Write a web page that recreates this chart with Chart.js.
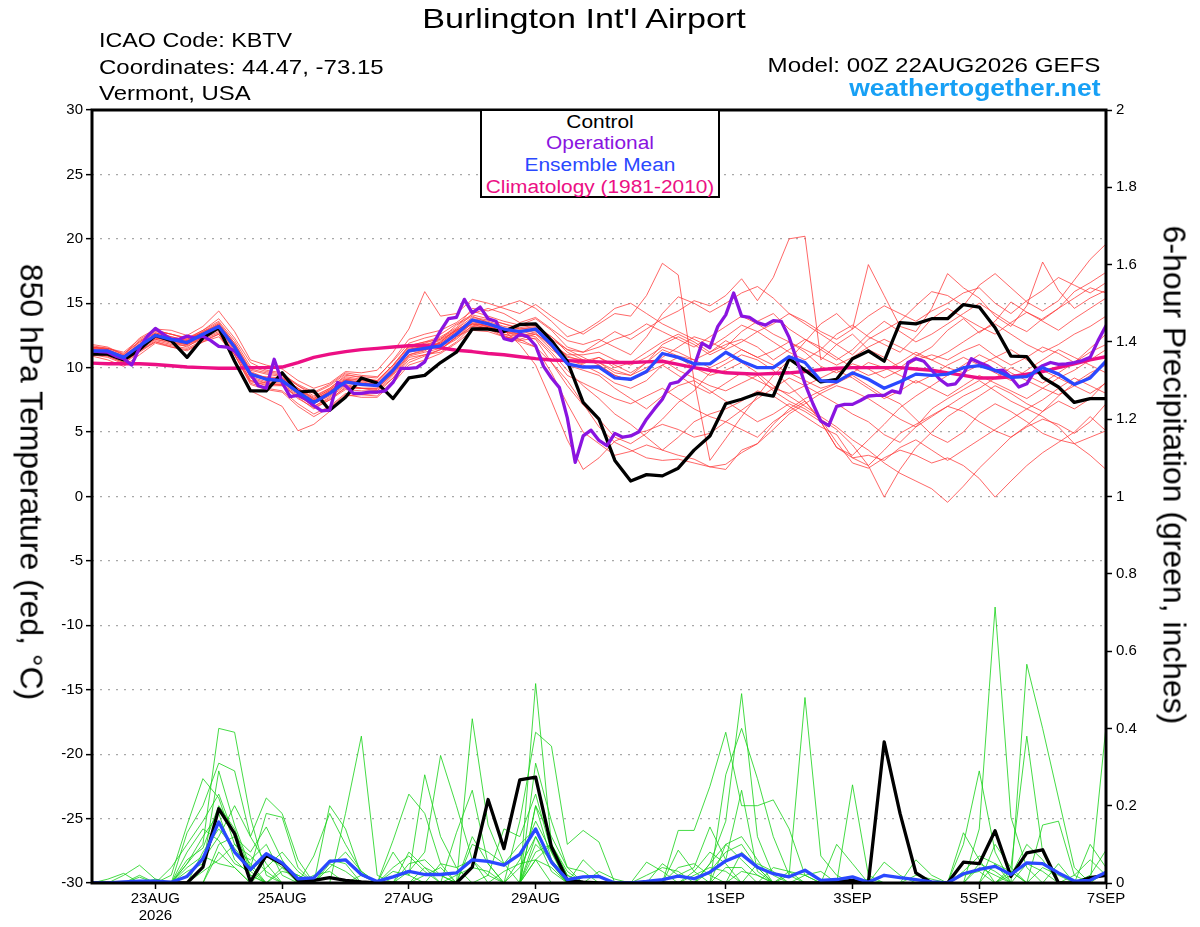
<!DOCTYPE html>
<html>
<head>
<meta charset="utf-8">
<title>Burlington Int'l Airport - GEFS</title>
<script src="https://cdn.jsdelivr.net/npm/chart.js@4.4.1/dist/chart.umd.min.js"></script>
<style>
  body { margin: 0; background: #fff; }
  #wrap { position: relative; width: 1200px; height: 927px; overflow: hidden;
          font-family: "Liberation Sans", Arial, sans-serif; color: #000; }
  #grafico { position: absolute; left: 0; top: 0; }
  .txt { position: absolute; white-space: nowrap; line-height: 1; }
  .esq { transform-origin: left center; }
  .dir { transform-origin: right center; }
  #legenda { position: absolute; left: 480px; top: 109px; width: 240px; height: 89px;
             box-sizing: border-box; border: 2px solid #000; background: #fff; }
  .leg { position: absolute; left: 600px; font-size: 18px; line-height: 1; white-space: nowrap;
         transform: translateX(-50%) scaleX(1.16); }
  .rot { position: absolute; font-size: 31px; line-height: 1; white-space: nowrap;
         transform: translate(-50%, -50%) rotate(90deg) scaleX(1.03); }
</style>
</head>
<body>
<div id="wrap">
  <canvas id="grafico" width="1200" height="927"></canvas>

  <div class="txt" style="left:584px; top:4.6px; font-size:28px; transform: translateX(-50%) scaleX(1.22);">Burlington Int'l Airport</div>
  <div class="txt esq" style="left:99px; top:28.9px; font-size:21px; transform: scaleX(1.11);">ICAO Code: KBTV</div>
  <div class="txt esq" style="left:99px; top:56.2px; font-size:21px; transform: scaleX(1.145);">Coordinates: 44.47, -73.15</div>
  <div class="txt esq" style="left:99px; top:82.2px; font-size:21px; transform: scaleX(1.14);">Vermont, USA</div>
  <div class="txt dir" style="right:100px; top:53.9px; font-size:21px; transform: scaleX(1.15);">Model: 00Z 22AUG2026 GEFS</div>
  <div class="txt dir" style="right:99px; top:77.2px; font-size:23px; font-weight:bold; color:#17a0f5; transform: scaleX(1.15);">weathertogether.net</div>

  <div id="legenda"></div>
  <div class="leg" style="top:112.8px; color:#000;">Control</div>
  <div class="leg" style="top:134.3px; color:#8a14e0;">Operational</div>
  <div class="leg" style="top:156.3px; color:#2a48ff;">Ensemble Mean</div>
  <div class="leg" style="top:177.8px; color:#ec0f84;">Climatology (1981-2010)</div>

  <div class="rot" style="left:31px; top:482px;">850 hPa Temperature (red, °C)</div>
  <div class="rot" style="left:1174px; top:475px;">6-hour Precipitation (green, inches)</div>
</div>

<script>
// Eixo x: horas desde 00Z 22AUG2026 (passo de 6 h, operacional de 3 h)
var tickHours = [24, 72, 120, 168, 240, 288, 336, 384];
var tickLabels = ['23AUG', '25AUG', '27AUG', '29AUG', '1SEP', '3SEP', '5SEP', '7SEP'];
var yearLabel = '2026';

// 850 hPa temperature, control (6-hourly)
var controlTemp = [
  11.05,11.05,10.6,11.4,12.5,12.1,10.8,12.3,13.1,10.5,8.2,
  8.2,9.6,8.1,8.2,6.7,7.7,9.2,8.8,7.6,9.2,9.4,
  10.4,11.2,13.0,13.0,12.8,13.35,13.4,12.1,10.5,7.3,6.0,
  2.8,1.2,1.7,1.6,2.2,3.6,4.7,7.2,7.55,8.0,7.8,
  10.7,9.8,8.9,9.1,10.7,11.3,10.5,13.5,13.4,13.8,13.8,
  14.9,14.7,13.1,10.9,10.85,9.25,8.5,7.3,7.6,7.6
];

// 850 hPa temperature, operational (3-hourly)
var operationalTemp = [
  11.3,11.25,11.2,10.9,10.7,10.2,11.55,12.45,13.05,12.6,
  12.2,12.2,12.45,12.3,12.45,12.1,11.65,11.6,11.3,10.5,
  9.5,8.6,8.4,10.65,8.85,7.75,7.85,7.55,7.05,6.65,
  6.7,8.85,8.6,8.0,8.0,8.1,8.1,8.2,8.85,9.95,
  9.95,10.0,10.45,11.8,12.85,13.8,13.9,15.3,14.25,14.7,
  13.8,13.6,12.25,12.1,12.6,12.4,11.7,10.1,9.2,8.45,
  6.1,2.65,4.7,5.15,4.35,3.95,4.9,4.6,4.7,5.0,
  6.0,6.8,7.55,8.75,8.9,9.5,10.1,11.9,11.55,13.2,
  14.1,15.8,14.0,13.9,13.5,13.3,13.65,13.6,12.35,10.55,
  8.75,7.2,5.85,5.5,7.0,7.15,7.15,7.45,7.8,7.85,
  7.85,8.2,8.05,10.4,10.7,10.5,9.8,9.1,8.65,8.75,
  9.5,10.7,10.4,10.15,9.75,9.8,9.25,8.5,8.75,9.75,
  10.15,10.4,10.25,10.3,10.4,10.55,10.8,12.1,13.25
];

// 850 hPa temperature, ensemble mean
var meanTemp = [
  11.3,11.3,10.8,11.7,12.5,12.2,11.95,12.6,13.2,11.6,9.5,
  9.1,9.0,8.1,7.3,8.0,8.9,8.7,8.6,9.8,11.3,11.5,
  11.7,12.6,13.7,13.4,13.0,12.8,13.0,11.8,10.3,10.05,10.05,
  9.2,9.1,9.7,11.1,10.8,10.3,10.3,11.2,10.5,10.0,10.0,
  10.85,10.4,9.0,8.9,9.6,9.1,8.4,8.9,9.5,9.4,9.5,
  10.0,10.15,9.8,9.25,9.3,10.0,9.5,8.7,9.2,10.5
];

// climatology 1981-2010
var climoTemp = [
  10.35,10.3,10.3,10.3,10.25,10.15,10.05,10.0,9.95,9.95,10.0,
  10.0,10.05,10.4,10.8,11.05,11.25,11.4,11.5,11.6,11.7,11.75,
  11.55,11.35,11.25,11.1,11.0,10.85,10.7,10.6,10.55,10.5,10.45,
  10.4,10.4,10.45,10.5,10.25,10.0,9.8,9.6,9.55,9.5,9.55,
  9.6,9.7,9.85,9.95,10.0,10.0,10.0,10.0,9.9,9.8,9.6,
  9.4,9.2,9.2,9.3,9.5,9.7,10.0,10.3,10.6,10.85
];

// ensemble members, temperature
var redMember01 = [11.6,11.4,10.9,12.0,12.9,12.6,12.2,12.9,13.8,12.3,10.4, 9.8,9.6,8.6,7.8,8.4,9.4,9.3,9.2,10.6,12.2,12.6, 12.9,13.5,14.4,14.0,13.6,13.3,13.8,12.9,11.6,11.2,12.0, 12.8,12.2,13.0,13.8,14.4,15.2,14.8,15.6,16.9,15.2,17.0, 20.0,20.2,10.6,11.8,12.6,11.4,10.8,10.0,10.9,11.6,12.9, 13.8,12.7,13.6,15.1,14.3,13.7,14.6,15.9,16.6,17.4];
var redMember02 = [11.8,11.6,11.0,12.3,13.0,12.9,12.5,13.2,14.4,12.8,10.6, 10.2,9.9,9.0,8.4,8.8,9.7,9.6,9.8,11.2,13.0,15.9, 14.0,14.2,15.3,15.0,14.6,14.2,14.9,14.0,13.2,12.6,13.4, 14.2,14.0,15.6,18.1,17.2,9.0,2.8,4.5,6.2,7.8,9.4, 10.6,12.0,13.4,14.2,13.0,18.0,15.6,13.2,12.8,14.6,17.3, 16.2,15.4,14.0,13.2,14.8,18.2,16.0,14.6,15.4,16.0];
var redMember03 = [11.2,11.0,10.5,11.5,12.4,12.0,11.6,12.4,13.0,11.5,9.2, 8.8,8.7,7.6,6.9,7.5,8.5,8.4,8.3,9.6,11.0,11.3, 12.0,13.0,14.2,14.6,14.2,13.5,13.9,13.0,12.1,11.8,12.2, 11.6,11.0,12.4,14.2,15.5,15.0,14.3,15.0,15.8,16.3,15.4, 14.2,13.4,12.6,11.8,11.0,12.2,12.9,13.6,14.8,15.9,15.6, 14.8,16.4,17.3,16.2,15.1,14.4,15.2,16.8,18.4,19.6];
var redMember04 = [11.0,10.9,10.4,11.3,12.1,11.8,11.7,12.2,12.7,11.2,9.4, 9.3,9.2,8.4,7.2,7.8,8.7,8.4,8.2,9.2,10.8,11.0, 11.2,12.0,13.2,13.0,12.4,12.2,12.6,11.4,10.6,10.3,10.8, 10.2,9.6,10.4,11.4,10.9,10.6,11.2,12.1,11.4,10.8,11.3, 12.0,11.2,10.1,9.6,10.3,9.9,9.2,9.8,10.6,11.0,10.6, 11.3,11.8,10.9,10.2,10.8,11.6,11.1,10.4,11.5,12.6];
var redMember05 = [10.9,10.6,10.1,11.0,11.9,11.6,11.4,12.0,12.4,11.0,8.8, 8.4,8.2,7.2,6.4,7.0,8.0,7.9,7.8,9.0,10.4,10.9, 11.4,12.4,13.0,13.2,12.5,12.0,11.6,9.6,7.2,5.0,4.1, 3.2,3.5,4.0,3.6,4.6,5.8,6.4,6.8,7.4,8.2,7.8, 7.0,6.2,5.4,4.8,3.0,2.4,3.6,4.9,5.6,6.3,7.0, 6.6,5.8,5.1,4.6,5.4,6.0,5.6,4.9,5.8,7.2];
var redMember06 = [11.4,11.2,10.7,11.6,12.3,12.1,11.9,12.5,13.3,11.8,9.7, 9.2,8.9,8.0,7.4,8.1,9.1,8.8,8.7,9.9,11.4,11.7, 12.2,13.3,14.0,13.5,12.9,11.8,10.2,7.4,4.4,2.1,3.0, 4.3,4.8,5.1,5.6,5.2,4.6,4.9,5.8,6.7,7.6,8.4, 9.2,8.6,7.9,7.2,6.4,5.8,4.8,4.2,5.4,6.8,7.6, 8.3,9.0,8.2,7.4,6.8,7.5,8.4,9.2,8.6,8.0];
var redMember07 = [11.1,11.3,10.9,11.8,12.6,12.3,12.0,12.7,13.0,11.3,9.0, 8.6,8.6,7.8,7.0,7.7,8.6,8.4,8.4,9.5,11.0,11.4, 11.8,12.5,13.4,13.3,12.9,12.6,12.2,10.4,8.6,7.1,6.0, 4.6,4.1,4.9,6.0,7.3,8.2,9.6,10.3,11.0,10.6,9.8, 8.6,7.4,5.8,3.8,3.2,4.4,5.6,6.9,7.8,8.6,9.4, 10.2,11.0,10.4,9.6,9.0,8.4,7.9,8.6,9.4,10.4];
var redMember08 = [11.5,11.5,11.1,12.0,12.7,12.4,12.1,12.8,13.5,11.9,9.9, 9.6,9.4,8.6,8.0,8.6,9.5,9.2,9.0,10.2,11.7,12.0, 12.4,13.1,14.6,14.4,14.8,15.2,14.6,13.6,12.4,12.8,13.6, 14.6,15.0,14.2,13.4,12.8,12.2,11.6,12.4,13.3,12.8,12.0, 11.2,10.6,11.4,12.6,13.3,12.4,11.8,11.2,12.4,13.8,14.6, 13.9,13.2,12.6,13.5,14.3,13.6,12.9,13.8,14.6,15.4];
var redMember09 = [11.3,11.1,10.6,11.4,12.2,12.0,11.8,12.4,13.1,11.4,9.3, 8.9,8.8,8.0,7.2,7.9,8.8,8.6,8.6,9.7,11.2,11.4, 11.6,12.3,13.5,13.2,12.8,12.6,12.9,11.9,10.6,10.2,9.6, 8.8,8.4,9.0,10.2,10.8,10.0,9.4,9.8,10.4,9.6,8.6, 7.8,7.0,6.2,5.4,4.4,3.6,2.6,1.8,1.2,0.6,-0.45, 0.8,2.2,3.4,4.6,5.5,6.6,7.4,6.8,7.6,8.9];
var redMember10 = [11.0,11.1,10.7,11.6,12.2,11.9,11.8,12.5,12.9,11.0,8.9, 8.7,8.7,7.9,7.0,7.6,8.4,8.4,8.4,9.6,11.3,11.6, 11.9,12.8,13.8,13.6,13.2,13.0,13.2,12.0,10.8,10.6,10.4, 9.6,9.4,10.0,10.6,9.8,9.2,8.6,8.2,8.8,9.4,8.2, 7.4,6.8,6.0,5.2,4.0,2.4,-0.05,2.1,3.8,5.0,6.2, 7.0,7.8,8.6,8.0,7.2,6.6,7.8,8.8,9.6,10.2];
var redMember11 = [11.6,11.4,10.8,11.7,12.6,12.3,12.2,12.7,13.4,11.7,9.5, 9.1,9.0,8.2,7.4,8.2,9.0,8.8,8.6,9.9,11.4,11.6, 11.9,12.8,13.4,13.0,12.6,12.2,11.6,10.4,9.0,7.2,5.4, 4.2,3.6,3.0,2.8,2.9,2.6,2.3,2.1,3.6,4.1,5.6, 6.8,7.6,8.2,8.8,9.4,8.6,7.8,7.2,6.0,4.8,4.2, 5.0,6.4,7.2,6.6,5.8,4.9,4.4,4.1,3.2,2.1];
var redMember12 = [11.7,11.5,11.0,12.1,12.8,12.6,12.3,12.9,13.6,12.1,10.1, 9.7,9.5,8.7,8.1,8.7,9.6,9.4,9.3,10.5,11.9,12.3, 12.6,13.4,14.1,13.8,13.4,13.0,13.1,12.4,11.4,11.2,11.6, 12.2,12.6,13.4,12.8,12.2,11.6,12.4,13.2,14.0,13.4,12.6, 12.0,11.4,10.8,10.2,10.8,11.6,12.2,11.6,11.0,10.6,11.2, 12.0,12.8,13.4,12.6,11.8,11.2,11.8,12.6,13.2,14.0];
var redMember13 = [11.2,11.2,10.6,11.5,12.3,12.1,11.8,12.3,12.8,11.2,9.0, 8.8,8.6,7.7,6.8,7.5,8.3,8.2,8.2,9.4,10.9,11.2, 11.5,12.2,13.3,13.1,12.8,12.5,12.7,11.6,10.2,9.8,9.4, 8.4,7.6,6.8,7.8,8.6,9.0,8.2,7.4,6.6,5.8,6.4, 7.2,6.6,5.8,3.8,3.0,3.2,2.8,3.8,4.4,3.6,2.8, 3.6,4.4,5.2,6.0,6.8,6.2,5.4,4.1,4.6,5.1];
var redMember14 = [11.4,11.3,10.9,11.8,12.5,12.1,11.9,12.6,13.2,11.6,9.6, 9.0,8.9,8.1,7.5,8.1,9.0,8.8,8.7,9.9,11.5,11.8, 12.1,12.9,13.6,13.4,13.0,12.6,12.4,11.2,9.8,8.6,7.6, 6.4,5.6,4.6,3.6,3.2,2.9,2.3,2.5,3.4,4.1,5.2, 6.4,7.2,8.0,8.6,8.2,7.6,6.8,6.0,5.4,6.2,7.0, 7.8,8.4,9.2,10.0,9.4,8.8,9.6,10.4,11.2,11.8];
var redMember15 = [11.3,11.4,10.9,11.8,12.5,12.3,12.0,12.5,13.0,11.5,9.4, 9.1,9.1,8.3,7.5,8.2,9.0,8.9,8.7,9.9,11.4,11.7, 11.8,12.6,13.4,13.2,13.0,12.9,13.0,12.0,10.9,10.5,10.8, 10.0,10.4,11.2,12.0,12.6,12.0,11.2,11.8,12.2,11.6,10.6, 11.4,12.2,11.6,10.8,10.0,9.4,9.8,10.4,11.2,10.6,10.0, 9.6,10.2,10.8,11.4,10.6,9.8,9.2,9.8,10.6,11.4];
var redMember16 = [11.5,11.3,10.8,11.9,12.7,12.4,12.1,12.8,13.3,11.7,9.6, 9.2,9.1,8.3,7.6,8.3,9.1,9.0,8.8,10.0,11.4,11.6, 12.0,12.9,13.7,13.5,13.1,12.8,12.9,11.6,10.2,10.0,10.2, 9.4,9.0,9.8,10.8,11.6,12.4,12.0,11.4,12.0,12.8,13.4, 14.2,13.6,12.8,12.2,13.0,14.0,14.8,14.2,13.6,14.4,15.0, 15.8,16.2,15.0,14.2,15.2,16.0,17.0,16.4,15.8,16.6];
var redMember17 = [11.0,10.8,10.3,11.2,12.0,11.7,11.5,12.1,12.6,11.0,8.7, 8.3,8.1,7.0,6.2,6.9,7.9,7.7,7.7,8.8,10.2,10.6, 11.1,11.9,12.9,12.8,12.4,12.1,12.3,11.0,9.4,8.8,8.2, 7.6,7.2,7.8,8.4,7.6,6.8,6.2,5.8,5.2,4.6,5.8, 6.6,7.4,6.0,4.2,2.6,2.2,3.0,3.6,3.2,2.6,3.0, 2.4,1.4,-0.05,1.2,2.4,3.4,4.2,5.0,6.2,5.1];
var redMember18 = [11.6,11.5,11.2,12.2,12.9,12.6,12.3,12.7,13.4,11.9,9.8, 9.5,9.3,8.4,7.7,8.4,9.3,9.1,9.0,10.2,11.7,12.0, 12.2,12.9,13.6,13.2,12.8,12.4,12.6,11.8,11.0,11.0,11.2, 10.6,10.2,10.8,11.6,11.2,10.6,10.0,10.6,11.4,10.8,10.2, 9.6,9.0,8.4,8.8,9.6,10.4,10.0,9.4,8.8,9.4,10.2, 10.8,10.2,9.6,9.0,9.8,10.6,11.4,10.8,10.2,9.6];
var redMember19 = [11.1,10.9,10.4,11.3,12.0,11.6,11.3,12.0,12.6,10.6,8.2, 7.6,7.0,5.1,5.6,6.6,7.8,7.9,8.0,9.2,10.6,11.0, 11.4,12.4,13.2,13.0,12.6,12.4,12.8,12.2,11.4,10.8,10.2, 9.4,9.0,9.6,10.2,9.4,8.6,8.0,8.8,9.6,9.0,8.4, 8.0,8.6,9.2,9.8,9.2,8.4,7.6,8.2,9.0,8.4,7.8, 8.6,9.4,8.8,8.2,7.6,8.4,9.2,8.6,8.0,8.8];
var redMember20 = [11.3,11.2,10.7,11.6,12.4,12.2,12.0,12.6,13.1,11.6,9.5, 9.2,9.2,8.4,7.6,8.3,9.2,9.0,8.9,10.1,11.6,11.9, 12.3,13.0,13.9,13.7,13.4,13.1,13.3,12.4,11.2,10.6,10.4, 9.8,9.4,10.4,11.8,12.4,11.8,11.0,11.6,12.8,13.6,14.2, 13.0,12.2,11.4,10.6,11.4,12.6,13.6,12.8,12.0,12.6,13.4, 14.2,15.0,14.2,13.4,12.8,13.8,14.6,15.4,16.2,15.8];

var tempMembers = [redMember01, redMember02, redMember03, redMember04, redMember05,
  redMember06, redMember07, redMember08, redMember09, redMember10, redMember11, redMember12,
  redMember13, redMember14, redMember15, redMember16, redMember17, redMember18, redMember19, redMember20];

// 6-hour precipitation (inches), control and ensemble mean
var controlPrecip = [
  0,0,0,0,0,0,0,0.041,0.192,0.128,0.003,
  0.072,0.05,0.007,0.007,0.014,0.007,0.003,0,0,0,0,
  0,0,0.041,0.216,0.089,0.267,0.274,0.093,0.007,0.002,0,
  0,0,0,0,0,0,0,0,0,0,0,
  0,0,0,0.003,0.007,0,0.365,0.18,0.026,0,0,
  0.054,0.05,0.135,0.017,0.078,0.086,0,0,0.014,0.02
];
var meanPrecip = [
  0,0,0.003,0.005,0.005,0.002,0.017,0.063,0.158,0.08,0.035,
  0.076,0.052,0.011,0.013,0.056,0.06,0.022,0.004,0.016,0.03,0.022,
  0.022,0.026,0.06,0.056,0.046,0.074,0.14,0.054,0.009,0.016,0.017,
  0,0,0.004,0.009,0.018,0.011,0.028,0.057,0.074,0.041,0.024,
  0.016,0.033,0.007,0.009,0.016,0.002,0.02,0.014,0.009,0.003,0,
  0.024,0.035,0.043,0.022,0.052,0.05,0.026,0.005,0.007,0.028
];

// ensemble members, precipitation
var greenMember01 = [0,0,.02,.046,.01,0,.05,.1,.4,.39, .17,.02,0,0,0,0,0,0,0,0, .03,.08,.33,.2,.06,0,0,0,.2,.06, 0,0,0,0,0,0,0,0,0,.05, .16,.49,.12,.02,0,0,0,0,0,0, 0,0,0,0,0,.1,.29,.08,0,0, 0,0,0,.02,.085];
var greenMember02 = [0,0,0,.02,0,.02,.15,.27,.22,.1, .05,0,0,0,0,.2,.14,.02,0,0, 0,0,0,0,.425,.15,.05,0,.516,.1, .02,0,0,0,0,0,0,.085,.03,0, 0,0,0,0,.02,.48,.07,.02,0,0, 0,0,0,0,0,0,.14,.714,.17,.04, 0,0,0,0,0];
var greenMember03 = [0,0,0,0,0,0,.13,.2,.31,.29, .12,.22,.18,.06,0,0,0,0,0,.11, .23,.18,.05,0,0,0,0,.16,.39,.354, .1,.136,.106,0,0,0,0,0,0,0, .28,.4,.27,.12,.02,0,0,0,0,0, 0,0,0,0,0,0,0,0,0,.566, .4,.22,.04,0,0];
var greenMember04 = [0,0,0,0,0,0,0,.04,.29,.15, .04,.18,.17,.04,0,0,.18,.38,.02,0, 0,0,0,.13,.24,.05,0,0,.31,.16, .04,0,0,0,0,0,0,.136,.136,.25, .39,.2,.2,.215,.14,.02,0,0,.254,.02, 0,0,0,0,0,0,0,0,0,0, .15,.16,.02,0,.405];
var greenMember05 = [0,.01,.025,0,0,.04,.1,.16,.23,.12, .08,.145,.06,0,.07,.18,.1,.03,0,0, 0,0,0,0,0,.02,.14,.12,.23,.08, 0,0,0,0,0,0,.05,.02,.04,.145, .06,.24,.03,0,0,0,0,0,0,0, 0,0,.06,.02,0,0,0,0,.04,.38, .08,0,0,.1,.04];
var greenMember06 = [0,0,0,0,0,0,.05,.12,.18,.06, .02,0,0,0,0,0,0,0,0,.08, .02,.28,.12,.04,0,0,0,0,.2,.12, .04,.03,0,0,0,.054,.03,0,0,0, .1,.12,.06,0,0,0,0,0,0,0, .054,.02,0,0,0,.13,.06,0,0,0, 0,.05,0,0,0];
var greenMember07 = [0,0,0,0,.01,0,.08,.14,.11,.05, .03,.07,.04,0,0,0,0,0,0,0, .08,.04,0,0,.1,.08,.05,.1,.14,.05, 0,0,.03,.01,0,0,0,0,0,.05, .1,.06,.02,0,0,0,0,.1,.05,0, 0,0,0,0,0,0,.05,.03,0,0, 0,0,0,0,0];
var greenMember08 = [0,0,0,0,0,0,.02,.06,.12,.2, .12,.05,0,0,0,.06,.05,0,0,0, 0,0,.05,.04,.06,.02,0,0,.12,.03, 0,0,0,0,0,0,0,0,.03,.08, .05,0,0,.04,.03,0,0,0,0,0, 0,0,0,0,0,0,0,.05,.03,0, 0,0,.02,.06,.02];
var greenMember09 = [0,0,0,0,0,0,0,.08,.14,.09, .04,0,.04,.02,0,0,0,0,0,.04, .07,.03,0,0,0,0,0,.06,.16,.08, 0,.06,.02,0,0,0,0,.04,.05,.02, 0,.08,.04,0,0,0,0,0,0,0, 0,0,0,0,0,.03,.07,.05,0,0, .04,.02,0,0,0];
var greenMember10 = [0,0,0,.015,0,0,.03,.05,.16,.08, .06,.1,.02,0,0,.04,.08,.03,0,0, 0,0,0,.02,.04,.03,0,0,.08,.1, .02,0,0,0,0,0,0,0,0,0, .04,.04,0,0,0,.02,.03,0,0,0, 0,0,0,0,0,0,0,0,.02,.1, .06,0,0,0,0];
var greenMember11 = [0,0,0,0,0,0,0,0,.08,.04, 0,.04,.08,.03,0,0,0,0,0,0, 0,.02,.04,0,0,0,.03,.05,.06,0, 0,0,0,0,0,.02,.04,.03,0,0, 0,0,.05,.03,0,0,0,0,0,0, 0,0,.02,.01,0,0,.04,.02,0,0, 0,0,0,0,.03];
var greenMember12 = [0,0,0,0,0,0,.06,.09,.2,.14, .03,0,0,0,.02,.03,0,0,0,0, .05,.06,.02,0,0,0,0,0,.1,.06, .01,0,0,0,0,0,0,0,0,.03, .08,.1,.04,0,0,0,0,0,0,.01, 0,0,0,0,0,0,0,.1,.04,0, 0,0,0,0,0];
var greenMember13 = [0,0,0,0,0,0,0,.03,.06,.1, .07,.03,0,0,0,0,0,.02,0,0, 0,0,0,0,.12,.05,0,0,.06,.04, 0,0,0,0,0,0,0,0,.02,.04, .03,0,0,0,0,0,0,0,0,0, 0,0,0,0,0,.02,.03,0,0,0, 0,0,0,0,0];
var greenMember14 = [0,0,0,0,0,0,.04,.07,.05,.04, 0,0,.03,.02,0,0,0,0,0,0, 0,.04,.02,0,0,0,0,.04,.12,.05, 0,0,0,0,0,0,0,0,0,0, 0,.03,.02,0,0,0,0,0,0,0, 0,0,0,0,0,0,0,0,0,.05, .03,0,0,0,0];
var greenMember15 = [0,0,0,0,0,0,0,0,.1,.12, .02,0,0,0,0,.05,.03,0,0,.03, .02,0,0,0,0,0,0,0,.06,.1, .03,0,0,0,0,0,0,0,0,0, 0,0,0,0,.03,.02,0,0,0,0, 0,0,0,0,0,0,0,0,.03,0, 0,0,0,0,0];

var precipMembers = [greenMember01, greenMember02, greenMember03, greenMember04, greenMember05,
  greenMember06, greenMember07, greenMember08, greenMember09, greenMember10, greenMember11,
  greenMember12, greenMember13, greenMember14, greenMember15];

// transforma uma lista de valores em pontos {x: hora, y: valor}
function paraPontos(valores, passoHoras) {
    return valores.map((v, i) => ({ x: i * passoHoras, y: v }));
}

var fonteEixo = { family: '"Liberation Sans", Arial, sans-serif', size: 15, lineHeight: 1.13 };

// moldura preta em volta da area do grafico
var moldura = {
    id: 'moldura',
    afterDraw(chart) {
        var a = chart.chartArea;
        var c = chart.ctx;
        c.save();
        c.strokeStyle = '#000';
        c.lineWidth = 3;
        c.strokeRect(a.left, a.top, a.right - a.left, a.bottom - a.top);
        c.restore();
    }
};

function criarGrafico() {
    var ctx = document.getElementById('grafico').getContext('2d');
    var datasets = [];

    // membros: temperatura (vermelho) e precipitacao (verde)
    tempMembers.forEach(m => datasets.push({
        data: paraPontos(m, 6), yAxisID: 'y',
        borderColor: 'rgba(255,55,55,0.85)', borderWidth: 0.9, order: 10
    }));
    precipMembers.forEach(m => datasets.push({
        data: paraPontos(m, 6), yAxisID: 'y2',
        borderColor: 'rgba(25,210,25,0.9)', borderWidth: 0.9, order: 9
    }));

    // linhas principais
    datasets.push({ label: 'Climatology (1981-2010)', data: paraPontos(climoTemp, 6), yAxisID: 'y',
        borderColor: '#ec0f84', borderWidth: 3.4, order: 6 });
    datasets.push({ label: 'Control', data: paraPontos(controlTemp, 6), yAxisID: 'y',
        borderColor: '#000', borderWidth: 3.3, order: 5 });
    datasets.push({ label: 'Operational', data: paraPontos(operationalTemp, 3), yAxisID: 'y',
        borderColor: '#8a14e0', borderWidth: 3.3, order: 4 });
    datasets.push({ label: 'Ensemble Mean', data: paraPontos(meanTemp, 6), yAxisID: 'y',
        borderColor: '#2a48ff', borderWidth: 3.3, order: 3 });
    datasets.push({ label: 'Control precip', data: paraPontos(controlPrecip, 6), yAxisID: 'y2',
        borderColor: '#000', borderWidth: 3.3, order: 5 });
    datasets.push({ label: 'Mean precip', data: paraPontos(meanPrecip, 6), yAxisID: 'y2',
        borderColor: '#2a48ff', borderWidth: 3.3, order: 3 });

    new Chart(ctx, {
        type: 'line',
        data: { datasets: datasets },
        options: {
            responsive: false,
            animation: false,
            devicePixelRatio: 1,
            elements: {
                point: { radius: 0 },
                line: { tension: 0, borderJoinStyle: 'round', borderCapStyle: 'round', fill: false }
            },
            layout: { padding: { top: 110, left: 0, right: 0, bottom: 0 } },
            plugins: { legend: { display: false }, tooltip: { enabled: false } },
            scales: {
                x: {
                    type: 'linear', min: 0, max: 384,
                    afterBuildTicks: s => { s.ticks = tickHours.map(h => ({ value: h })); },
                    afterFit: s => { s.height = 44; },
                    ticks: {
                        autoSkip: false, maxRotation: 0, padding: 1, color: '#000', font: fonteEixo,
                        callback: (v) => {
                            var k = tickHours.indexOf(v);
                            return k === 0 ? [tickLabels[0], yearLabel] : tickLabels[k];
                        }
                    },
                    grid: { drawOnChartArea: false, tickLength: 6, tickColor: '#000', tickWidth: 1.5 },
                    border: { display: false }
                },
                y: {
                    position: 'left', min: -30, max: 30,
                    afterFit: s => { s.width = 92; },
                    ticks: { stepSize: 5, padding: 3, color: '#000', font: fonteEixo },
                    grid: { color: '#a8a8a8', lineWidth: 1.3, tickColor: '#000', tickLength: 6, tickWidth: 1.5, tickBorderDash: [] },
                    border: { display: false, dash: [2, 6] }
                },
                y2: {
                    position: 'right', min: 0, max: 2,
                    afterFit: s => { s.width = 94; },
                    ticks: { stepSize: 0.2, padding: 4, color: '#000', font: fonteEixo,
                             callback: v => String(Math.round(v * 10) / 10) },
                    grid: { drawOnChartArea: false, tickColor: '#000', tickLength: 6, tickWidth: 1.5 },
                    border: { display: false }
                }
            }
        },
        plugins: [moldura]
    });
}

criarGrafico();
</script>
</body>
</html>
